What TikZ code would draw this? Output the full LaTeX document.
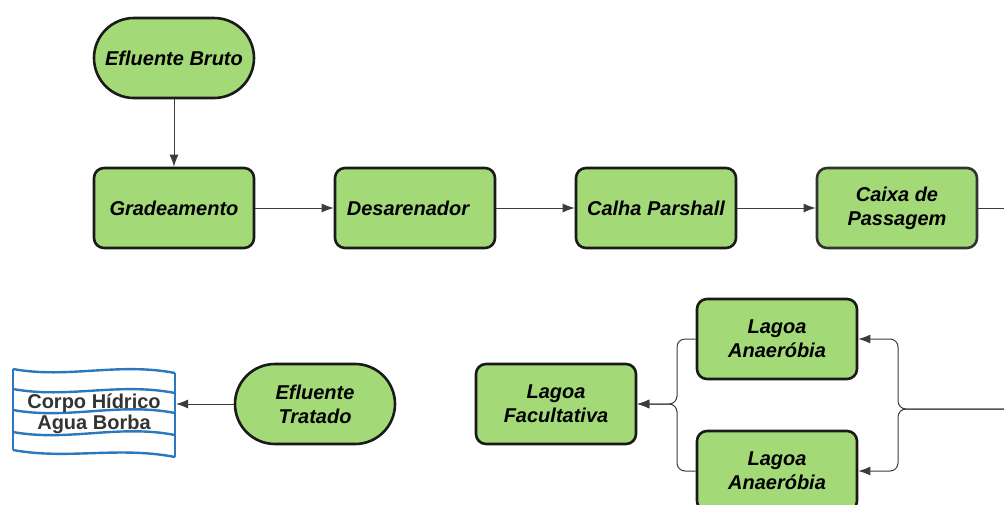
\documentclass[tikz,border=0pt]{standalone}
\usepackage{fontspec}
\setmainfont{Liberation Sans}
\usetikzlibrary{arrows.meta}
\definecolor{boxgreen}{HTML}{A3D977}
\definecolor{boxline}{HTML}{1A1A1A}
\definecolor{conn}{HTML}{3C3C3C}
\definecolor{water}{HTML}{2B78BE}
\definecolor{txtgray}{HTML}{333333}
\tikzset{
  procbox/.style={draw=boxline, line width=2.6pt, fill=boxgreen, rounded corners=10pt,
    minimum width=160pt, minimum height=80pt, align=center, inner sep=2pt,
    font=\fontsize{20}{24}\selectfont\bfseries\itshape},
  termbox/.style={procbox, rounded corners=40pt},
  flow/.style={draw=conn, line width=1pt, -{Latex[length=12pt,width=9pt]}, rounded corners=8pt},
  wave/.style={draw=water, line width=2.4pt},
}
\begin{document}
\begin{tikzpicture}[x=1pt,y=-1pt]
\useasboundingbox (0,0) rectangle (1004,504);
\clip (0,0) rectangle (1004,504);
\node[termbox] (bruto) at (174,58) {Efluente Bruto};
\node[procbox] (grad) at (174,208) {Gradeamento};
\node[procbox] (desa) at (415,208) {\hspace*{-14pt}Desarenador};
\node[procbox] (calha) at (656,208) {Calha Parshall};
\node[procbox, draw=txtgray] (caixa) at (897,208) {Caixa de\\Passagem};
\node[procbox] (anaA) at (777,339) {Lagoa\\Anaeróbia};
\node[procbox] (anaB) at (777,471) {Lagoa\\Anaeróbia};
\node[procbox] (facu) at (556,404) {Lagoa\\Facultativa};
\node[termbox] (trat) at (315,404) {Efluente\\Tratado};
% water body symbol
\foreach \yl/\yr in {369/373,389/393,410/413,432/435,450/457}{
  \draw[wave] (13,\yl) .. controls (68,\yl+10) and (118,\yr-11) .. (175,\yr);
}
\draw[wave] (13,369) -- (13,450);
\draw[wave] (175,373) -- (175,457);
\node[align=center, text=txtgray, inner sep=0pt, font=\fontsize{20}{21}\selectfont\bfseries] (corpo) at (94,414) {Corpo Hídrico\\Agua Borba};
\coordinate (corpoIn) at (176,404);
\coordinate (fromRight) at (1010,409);
\coordinate (toRight) at (1010,208);
\coordinate (splitR) at (898,409);
\coordinate (joinL) at (677,404);
% connectors
\draw[flow] (bruto) -- (grad);
\draw[flow] (grad) -- (desa);
\draw[flow] (desa) -- (calha);
\draw[flow] (calha) -- (caixa);
\draw[flow, -] (caixa) -- (toRight);
\draw[flow] (fromRight) -- (splitR) |- (anaA.east);
\draw[flow] (fromRight) -- (splitR) |- (anaB.east);
\draw[flow] (anaA.west) -| (joinL) -- (facu.east);
\draw[flow] (anaB.west) -| (joinL) -- (facu.east);
\draw[flow, rounded corners=0pt] (trat.west) -- (corpoIn);
\end{tikzpicture}
\end{document}
